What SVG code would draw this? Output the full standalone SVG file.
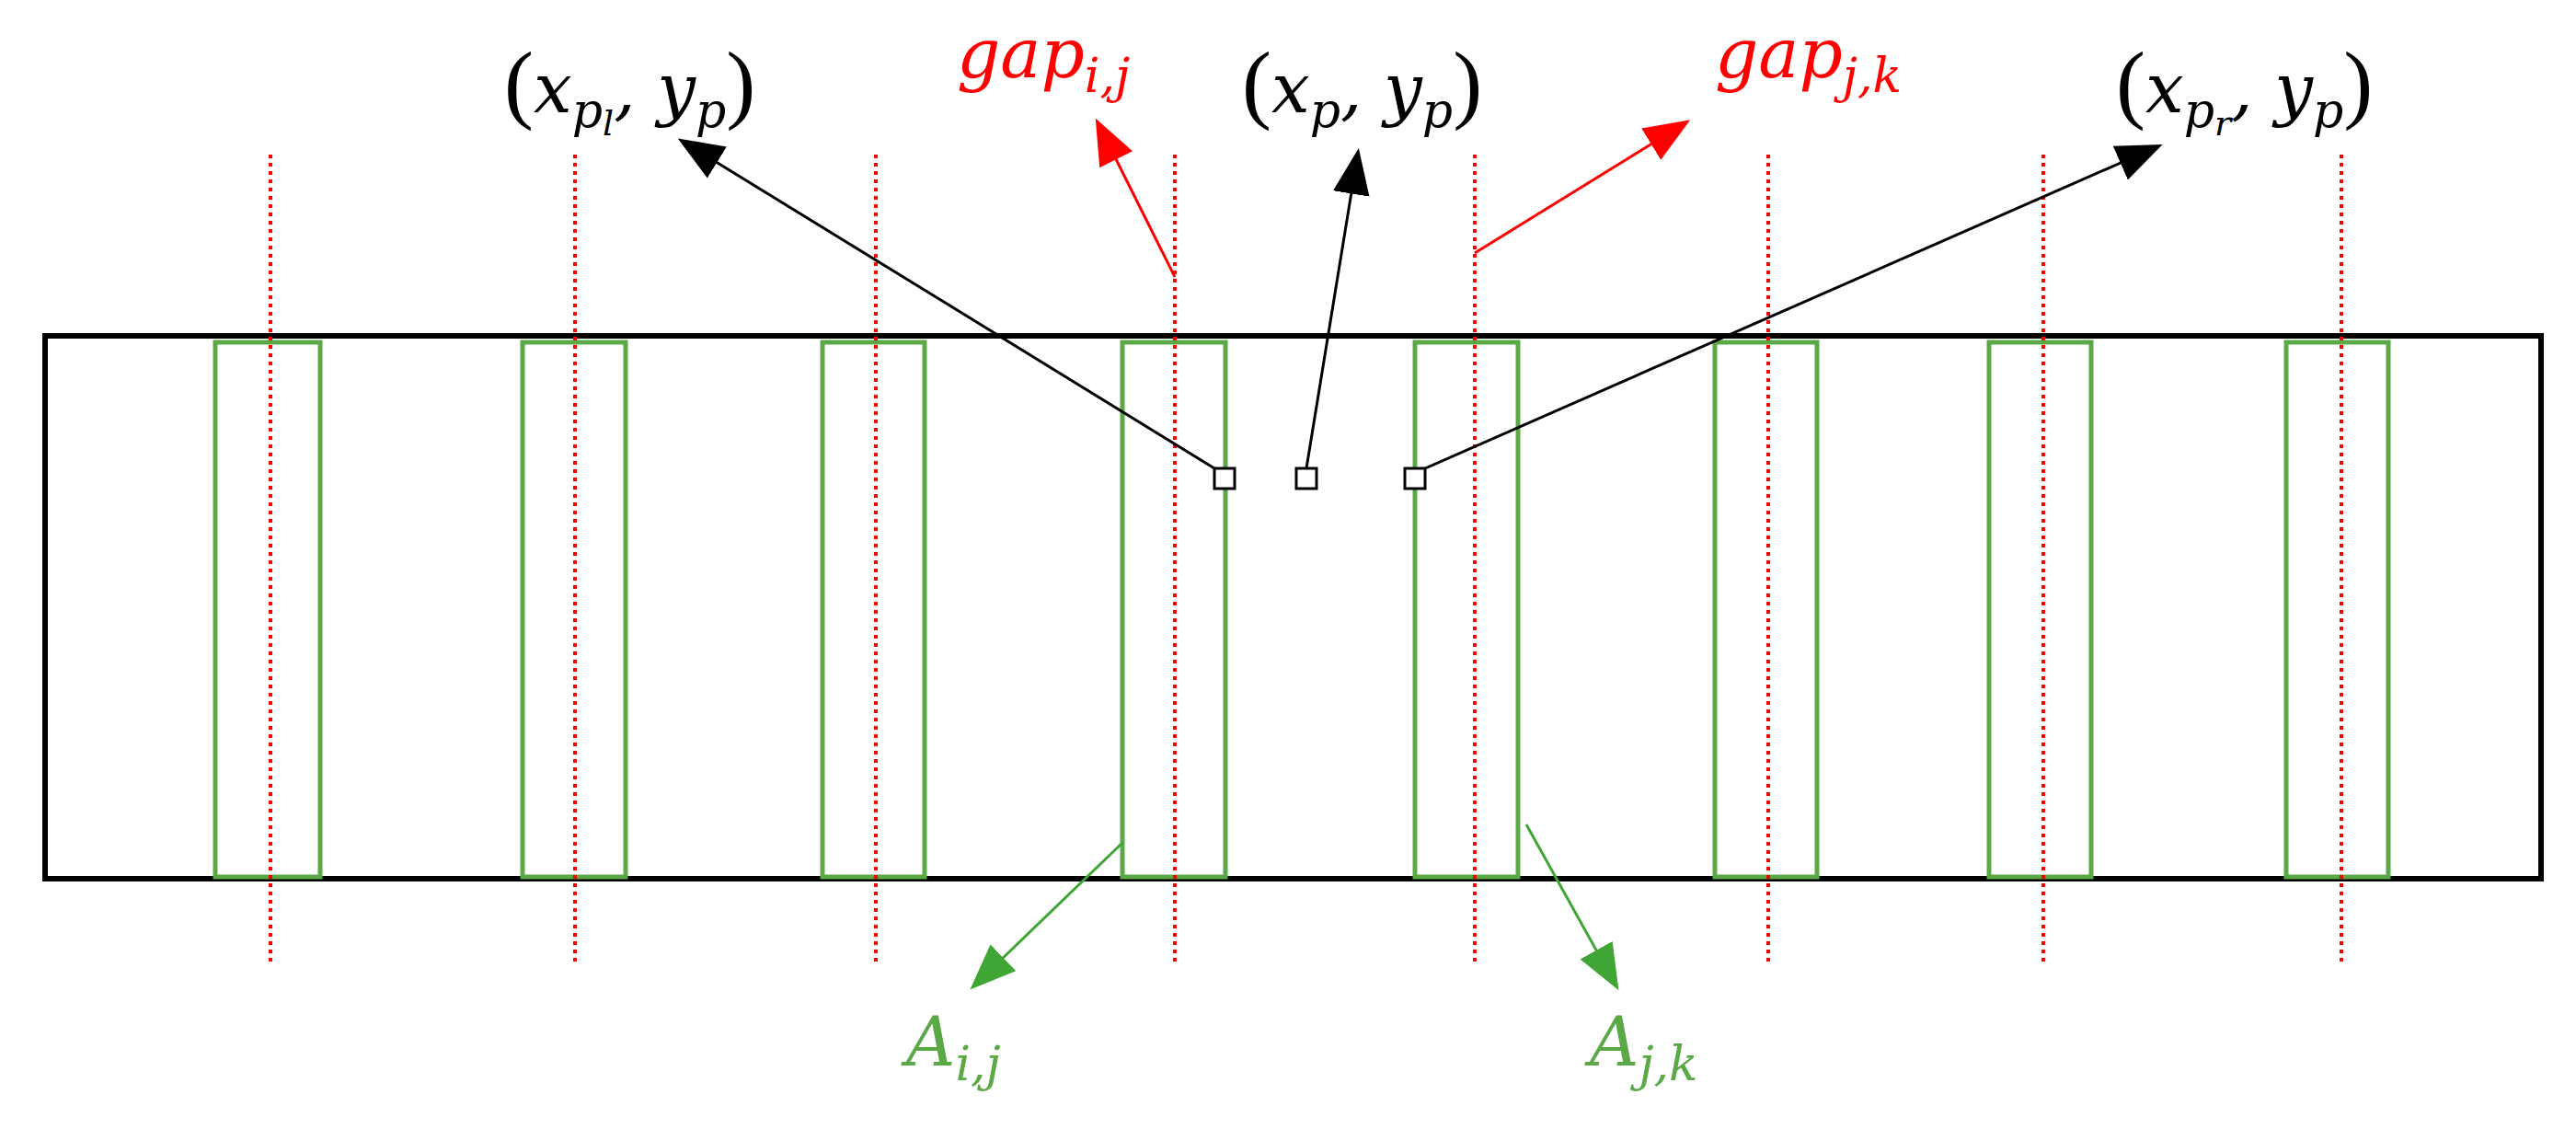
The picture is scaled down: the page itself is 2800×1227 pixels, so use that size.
<svg xmlns="http://www.w3.org/2000/svg" width="2800" height="1227" viewBox="0 0 2800 1227">
<style>
.red{stroke:#ff0000;stroke-width:4;stroke-dasharray:4 5;fill:none}
.g{fill:none;stroke:#5aa846;stroke-width:5}
.t{font-family:"DejaVu Serif","Liberation Serif",serif;font-style:italic;font-size:74px}
.p{font-style:normal;font-family:"Liberation Serif",serif;font-size:96px}
.s1{font-size:52px}
.s2{font-size:38px}
</style>
<defs>
<marker id="ak" markerUnits="userSpaceOnUse" markerWidth="50" markerHeight="50" refX="45" refY="20" orient="auto" viewBox="0 0 50 40"><path d="M0,0 L50,20 L0,40Z" fill="#000"/></marker>
<marker id="ar" markerUnits="userSpaceOnUse" markerWidth="50" markerHeight="50" refX="45" refY="20" orient="auto" viewBox="0 0 50 40"><path d="M0,0 L50,20 L0,40Z" fill="#ff0000"/></marker>
<marker id="ag" markerUnits="userSpaceOnUse" markerWidth="50" markerHeight="50" refX="45" refY="20" orient="auto" viewBox="0 0 50 40"><path d="M0,0 L50,20 L0,40Z" fill="#3fa535"/></marker>
</defs>
<rect width="2800" height="1227" fill="#fff"/>
<g id="strip"><rect x="49" y="365" width="2713" height="590" fill="none" stroke="#000" stroke-width="6"/></g>
<g id="regions">
<rect class="g" x="234" y="372" width="114" height="581"/>
<rect class="g" x="568" y="372" width="112" height="581"/>
<rect class="g" x="894" y="372" width="111" height="581"/>
<rect class="g" x="1220" y="372" width="112" height="581"/>
<rect class="g" x="1538" y="372" width="112" height="581"/>
<rect class="g" x="1864" y="372" width="111" height="581"/>
<rect class="g" x="2162" y="372" width="111" height="581"/>
<rect class="g" x="2485" y="372" width="111" height="581"/>
</g>
<g id="gaplines">
<line class="red" x1="294" y1="168" x2="294" y2="1049"/>
<line class="red" x1="625" y1="168" x2="625" y2="1049"/>
<line class="red" x1="952" y1="168" x2="952" y2="1049"/>
<line class="red" x1="1277" y1="168" x2="1277" y2="1049"/>
<line class="red" x1="1603" y1="168" x2="1603" y2="1049"/>
<line class="red" x1="1922" y1="168" x2="1922" y2="1049"/>
<line class="red" x1="2221" y1="168" x2="2221" y2="1049"/>
<line class="red" x1="2545" y1="168" x2="2545" y2="1049"/>
</g>
<g id="points" fill="#fff" stroke="#000" stroke-width="3">
<rect x="1320" y="509" width="22" height="22"/>
<rect x="1409" y="509" width="22" height="22"/>
<rect x="1527" y="509" width="22" height="22"/>
</g>
<g id="connectors" stroke-width="3">
<line x1="1320" y1="509" x2="741" y2="153" stroke="#000" marker-end="url(#ak)"/>
<line x1="1420" y1="509" x2="1476" y2="166" stroke="#000" marker-end="url(#ak)"/>
<line x1="1549" y1="509" x2="2346" y2="159" stroke="#000" marker-end="url(#ak)"/>
<line x1="1277" y1="301" x2="1193" y2="133" stroke="#ff0000" marker-end="url(#ar)"/>
<line x1="1603" y1="275" x2="1833" y2="133" stroke="#ff0000" marker-end="url(#ar)"/>
<line x1="1220" y1="916" x2="1058" y2="1072" stroke="#3fa535" marker-end="url(#ag)"/>
<line x1="1659" y1="896" x2="1757" y2="1072" stroke="#3fa535" marker-end="url(#ag)"/>
</g>
<g id="labels" class="t">
<text x="548" y="122"><tspan class="p">(</tspan>x<tspan class="s1" dy="16">p</tspan><tspan class="s2" dy="9">l</tspan><tspan dy="-25">, y</tspan><tspan class="s1" dy="16">p</tspan><tspan class="p" dy="-16">)</tspan></text>
<text x="1040" y="84" fill="#ff0000">gap<tspan class="s1" dy="16">i,j</tspan></text>
<text x="1350" y="122"><tspan class="p">(</tspan>x<tspan class="s1" dy="16">p</tspan><tspan dy="-16">, y</tspan><tspan class="s1" dy="16">p</tspan><tspan class="p" dy="-16">)</tspan></text>
<text x="1864" y="84" fill="#ff0000">gap<tspan class="s1" dy="16">j,k</tspan></text>
<text x="2300" y="122"><tspan class="p">(</tspan>x<tspan class="s1" dy="16">p</tspan><tspan class="s2" dy="9">r</tspan><tspan dy="-25">, y</tspan><tspan class="s1" dy="16">p</tspan><tspan class="p" dy="-16">)</tspan></text>
<text x="985" y="1158" fill="#5aa846">A<tspan class="s1" dy="16">i,j</tspan></text>
<text x="1728" y="1158" fill="#5aa846">A<tspan class="s1" dy="16">j,k</tspan></text>
</g>
</svg>
